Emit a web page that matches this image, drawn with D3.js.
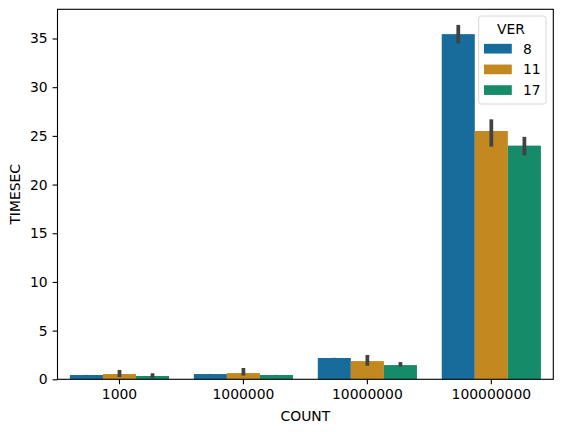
<!doctype html>
<html lang="en">
<head>
<meta charset="utf-8">
<script src="https://d3js.org/d3.v7.min.js"></script>
<style>
  body { margin: 0; background: #fff; }
  text { font-family: "DejaVu Sans", sans-serif; fill: #000; }
</style>
</head>
<body>
<svg id="chart" width="562" height="432"></svg>
<script>
// data
var counts = ["1000", "1000000", "10000000", "100000000"];
var versions = ["8", "11", "17"];
var colors = ["#176c9c", "#c38820", "#168b6a"];
// mean TIMESEC per count, one array per version
var ver8 = [0.44, 0.54, 2.19, 35.45];
var ver11 = [0.54, 0.64, 1.87, 25.5];
var ver17 = [0.34, 0.44, 1.46, 24.0];
// confidence interval ends
var ver8Lo = [0.43, 0.53, 2.18, 34.5];
var ver8Hi = [0.45, 0.55, 2.20, 36.4];
var ver11Lo = [0.23, 0.38, 1.40, 23.9];
var ver11Hi = [0.96, 1.16, 2.50, 26.7];
var ver17Lo = [0.13, 0.43, 1.29, 23.0];
var ver17Hi = [0.62, 0.45, 1.77, 24.9];
var yTicks = [0, 5, 10, 15, 20, 25, 30, 35];

var means = [ver8, ver11, ver17];
var los = [ver8Lo, ver11Lo, ver17Lo];
var his = [ver8Hi, ver11Hi, ver17Hi];

var rows = [];
counts.forEach(function(c, i) {
  versions.forEach(function(v, j) {
    rows.push({count: c, ver: v, idx: j, mean: means[j][i], lo: los[j][i], hi: his[j][i]});
  });
});

var svg = d3.select("#chart");
var plotL = 57.5, plotR = 553.3, plotT = 9.3, plotB = 379.3;

var x = d3.scaleBand().domain(counts).range([plotL, plotR]).paddingInner(0.2).paddingOuter(0.1);
var xSub = d3.scaleBand().domain(versions).range([0, x.bandwidth()]).padding(0);
var y = d3.scaleLinear().domain([0, 38]).range([plotB, plotT]);

// bars
svg.append("g").selectAll("rect")
  .data(rows)
  .enter()
  .append("rect")
  .attr("x", function(d) { return x(d.count) + xSub(d.ver); })
  .attr("y", function(d) { return y(d.mean); })
  .attr("width", xSub.bandwidth())
  .attr("height", function(d) { return y(0) - y(d.mean); })
  .attr("fill", function(d) { return colors[d.idx]; });

// error bars
svg.append("g").selectAll("line")
  .data(rows)
  .enter()
  .append("line")
  .attr("x1", function(d) { return x(d.count) + xSub(d.ver) + xSub.bandwidth() / 2; })
  .attr("x2", function(d) { return x(d.count) + xSub(d.ver) + xSub.bandwidth() / 2; })
  .attr("y1", function(d) { return y(d.lo); })
  .attr("y2", function(d) { return y(d.hi); })
  .style("stroke", "#424242")
  .style("stroke-width", 3.75);

// axes
var xAxis = d3.axisBottom(x).tickSizeOuter(0).tickSize(4.9).tickPadding(4.9);
var gx = svg.append("g").attr("transform", "translate(0," + plotB + ")").call(xAxis);
var yAxis = d3.axisLeft(y).tickValues(yTicks).tickSizeOuter(0).tickSize(4.9).tickPadding(4.9);
var gy = svg.append("g").attr("transform", "translate(" + plotL + ",0)").call(yAxis);
[gx, gy].forEach(function(g) {
  g.select(".domain").remove();
  g.selectAll("line").style("stroke", "#000").style("stroke-width", 1.1);
  g.selectAll("text").style("font-size", "13.9px").style("font-family", "DejaVu Sans");
});

// frame
svg.append("rect")
  .attr("x", plotL).attr("y", plotT)
  .attr("width", plotR - plotL).attr("height", plotB - plotT)
  .attr("fill", "none")
  .style("stroke", "#000").style("stroke-width", 1.1);

// axis labels
svg.append("text")
  .attr("x", (plotL + plotR) / 2).attr("y", 421)
  .attr("text-anchor", "middle")
  .style("font-size", "13.9px")
  .text("COUNT");
svg.append("text")
  .attr("transform", "translate(20," + (plotT + plotB) / 2 + ") rotate(-90)")
  .attr("text-anchor", "middle")
  .style("font-size", "13.9px")
  .text("TIMESEC");

// legend
var lg = svg.append("g");
lg.append("rect")
  .attr("x", 478.7).attr("y", 16)
  .attr("width", 67.3).attr("height", 88)
  .attr("rx", 2.5)
  .attr("fill", "#fff").attr("fill-opacity", 0.8)
  .style("stroke", "#d6d6d6").style("stroke-width", 1);
lg.append("text")
  .attr("x", 511).attr("y", 34.2)
  .attr("text-anchor", "middle")
  .style("font-size", "13.9px")
  .text("VER");
var items = lg.selectAll("g.item")
  .data(versions)
  .enter()
  .append("g")
  .attr("class", "item")
  .attr("transform", function(d, i) { return "translate(0," + (48.7 + i * 20.7) + ")"; });
items.append("rect")
  .attr("x", 484).attr("y", -4.85)
  .attr("width", 27.8).attr("height", 9.7)
  .attr("fill", function(d, i) { return colors[i]; });
items.append("text")
  .attr("x", 523).attr("y", 5)
  .style("font-size", "13.9px")
  .text(function(d) { return d; });
</script>
</body>
</html>
